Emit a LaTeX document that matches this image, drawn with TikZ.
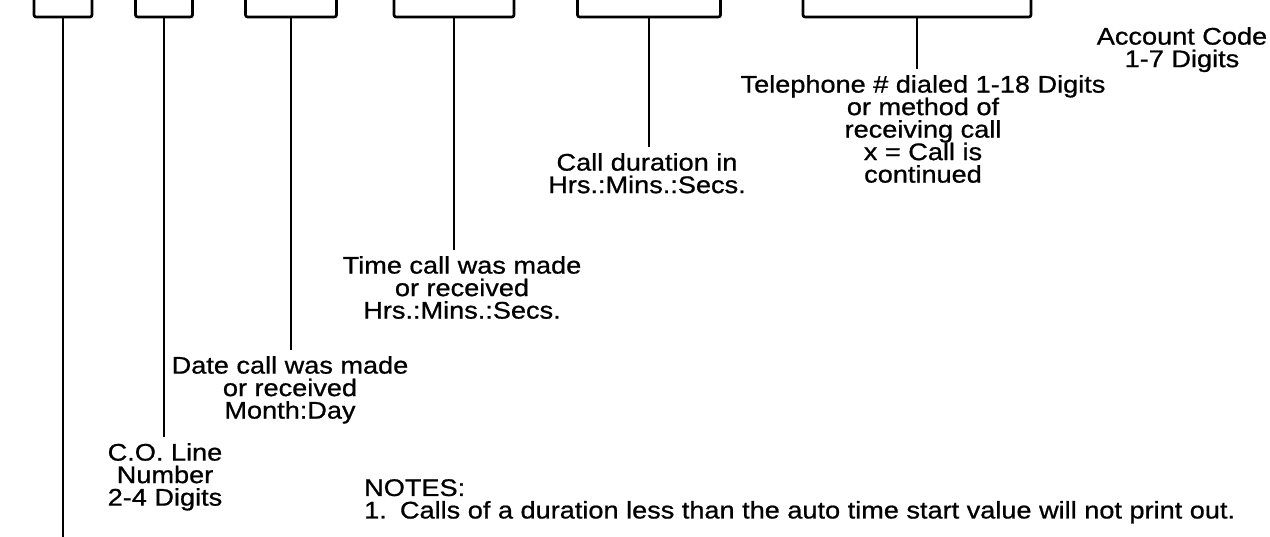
\documentclass[tikz,border=0pt]{standalone}
\usepackage{fontspec}
\setmainfont{Liberation Sans}[FakeStretch=1.13, FakeBold=0.8]
\usetikzlibrary{positioning}

\begin{document}
\begin{tikzpicture}[x=1pt, y=-1pt,
  field/.style={draw, line width=2.6pt, rounded corners=2pt,
    minimum height=40pt, inner sep=0pt},
  stem/.style={line width=1.7pt},
  caption/.style={align=center, inner xsep=0pt, inner ysep=6pt,
    anchor=north, font=\fontsize{24}{22.5}\selectfont}]
  \clip (0,0) rectangle (1270,536);
  \fill[white] (0,0) rectangle (1270,536);

  % record fields (tops run off the page)
  \node (f1) [field, minimum width=58pt]  at (63,-3)  {};
  \node (f2) [field, minimum width=57pt]  at (164,-3) {};
  \node (f3) [field, minimum width=91pt]  at (291,-3) {};
  \node (f4) [field, minimum width=120pt] at (454,-3) {};
  \node (f5) [field, minimum width=143pt] at (649,-3) {};
  \node (f6) [field, minimum width=228pt] at (917,-3) {};

  % captions
  \node (acct) [caption] at (1182,21)
    {Account Code\\1-7 Digits};
  \node (tel)  [caption] at (923,69)
    {Telephone \# dialed 1-18 Digits\\or method of\\receiving call\\x = Call is\\continued};
  \node (dur)  [caption] at (647,147)
    {Call duration in\\Hrs.:Mins.:Secs.};
  \node (tm)   [caption] at (462,250)
    {Time call was made\\or received\\Hrs.:Mins.:Secs.};
  \node (dt)   [caption] at (290,350)
    {Date call was made\\or received\\Month:Day};
  \node (co)   [caption] at (165,437)
    {C.O. Line\\Number\\2-4 Digits};
  \node (notes) [caption, align=left, anchor=north west] at (364,473)
    {NOTES:\\1.\hspace{0.55em}Calls of a duration less than the auto time start value will not print out.};
  \coordinate (end1) at (63,545);

  % leader lines
  \draw[stem] (f1.south) -- (end1);
  \draw[stem] (f2.south) -- (f2.south |- co.north);
  \draw[stem] (f3.south) -- (f3.south |- dt.north);
  \draw[stem] (f4.south) -- (f4.south |- tm.north);
  \draw[stem] (f5.south) -- (f5.south |- dur.north);
  \draw[stem] (f6.south) -- (f6.south |- tel.north);
\end{tikzpicture}
\end{document}
